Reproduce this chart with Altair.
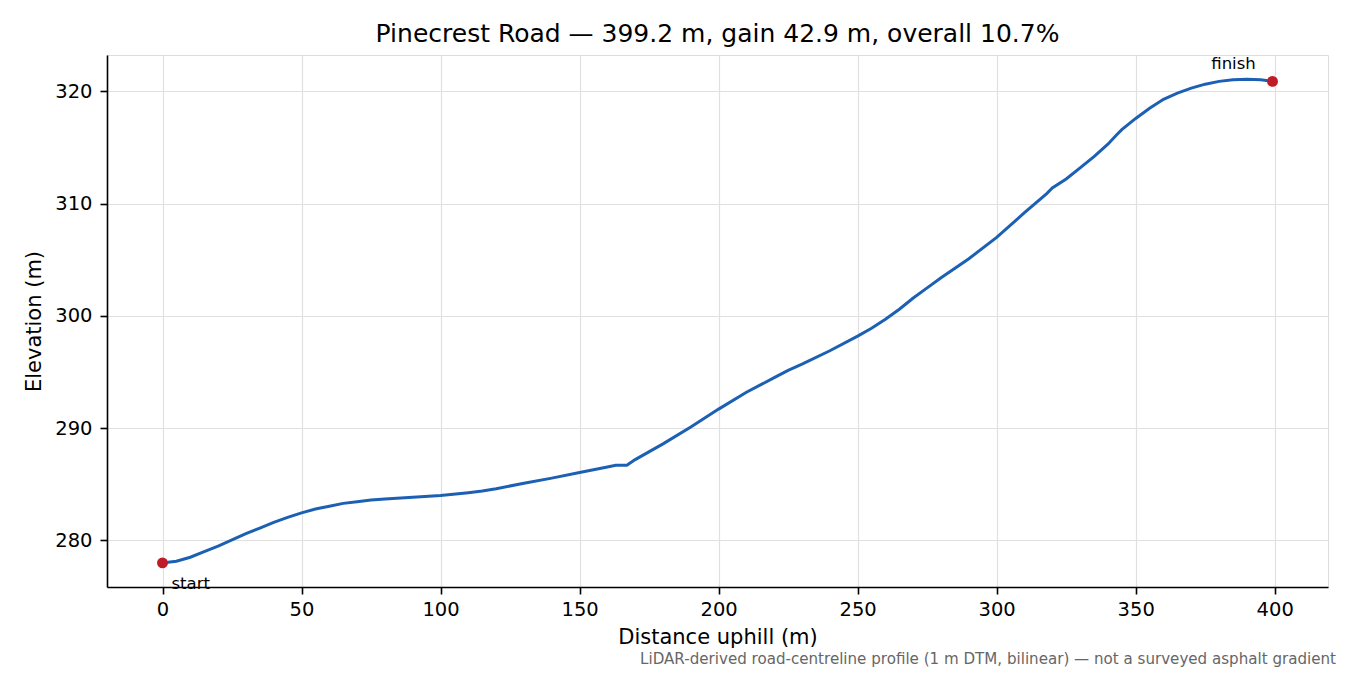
import altair as alt
import pandas as pd

distance = [0, 2, 5, 10, 15, 20, 25, 30, 35, 40, 45, 50, 55, 60, 65, 70, 75, 80, 90, 100,
            110, 115, 120, 130, 140, 150, 160, 163, 167, 170, 180, 190, 200, 210, 220, 225,
            230, 240, 250, 255, 260, 265, 270, 275, 280, 290, 300, 310, 318, 320, 325, 330,
            335, 340, 343, 345, 350, 355, 360, 365, 370, 375, 380, 385, 390, 395, 399.2]
elevation = [278.0, 278.05, 278.15, 278.5, 279.0, 279.5, 280.05, 280.6, 281.1, 281.6, 282.05,
             282.45, 282.8, 283.05, 283.3, 283.45, 283.6, 283.7, 283.85, 284.0,
             284.25, 284.4, 284.6, 285.1, 285.55, 286.05, 286.55, 286.7, 286.7, 287.2,
             288.6, 290.1, 291.7, 293.2, 294.5, 295.15, 295.7, 296.9, 298.2, 298.9, 299.7,
             300.6, 301.6, 302.5, 303.4, 305.1, 307.0, 309.2, 310.9, 311.4, 312.2, 313.2,
             314.2, 315.3, 316.1, 316.6, 317.6, 318.5, 319.3, 319.85, 320.3, 320.65, 320.9,
             321.05, 321.1, 321.05, 320.9]

end_labels = ["start", "finish"]
end_distance = [0, 399.2]
end_elevation = [278.0, 320.9]

title_text = "Pinecrest Road — 399.2 m, gain 42.9 m, overall 10.7%"
footnote = "LiDAR-derived road-centreline profile (1 m DTM, bilinear) — not a surveyed asphalt gradient"

df = pd.DataFrame({"d": distance, "e": elevation})
ends = pd.DataFrame({"label": end_labels, "d": end_distance, "e": end_elevation})

FONT = "DejaVu Sans"

xscale = alt.Scale(domain=[-19.96, 419.16], nice=False, zero=False)
yscale = alt.Scale(domain=[275.85, 323.25], nice=False, zero=False)

common = dict(grid=True, gridColor="#e0e0e0", gridWidth=1.2, tickColor="black",
              domainColor="black", domainWidth=1.6, tickWidth=1.6, tickSize=7,
              labelFontSize=19.5, titleFontSize=21, titleFontWeight="normal",
              labelColor="black", titleColor="black", labelFont=FONT, titleFont=FONT)

xaxis = alt.Axis(values=[0, 50, 100, 150, 200, 250, 300, 350, 400], title="Distance uphill (m)",
                 labelPadding=6, titlePadding=8, **common)
yaxis = alt.Axis(values=[280, 290, 300, 310, 320], title="Elevation (m)",
                 labelPadding=8, titlePadding=10, **common)

line = alt.Chart(df).mark_line(color="#1c60b4", strokeWidth=3).encode(
    x=alt.X("d:Q", scale=xscale, axis=xaxis),
    y=alt.Y("e:Q", scale=yscale, axis=yaxis),
)

dots = alt.Chart(ends).mark_point(filled=True, color="#c01c28", size=120, opacity=1).encode(
    x=alt.X("d:Q", scale=xscale),
    y=alt.Y("e:Q", scale=yscale),
)

start_lbl = alt.Chart(ends[ends.label == "start"]).mark_text(
    align="left", baseline="alphabetic", dx=9, dy=26, fontSize=16.5, font=FONT, color="black"
).encode(x=alt.X("d:Q", scale=xscale), y=alt.Y("e:Q", scale=yscale), text="label:N")

finish_lbl = alt.Chart(ends[ends.label == "finish"]).mark_text(
    align="center", baseline="alphabetic", dx=-39, dy=-12, fontSize=16.5, font=FONT, color="black"
).encode(x=alt.X("d:Q", scale=xscale), y=alt.Y("e:Q", scale=yscale), text="label:N")

note = alt.Chart(pd.DataFrame({"t": [footnote]})).mark_text(
    align="right", baseline="alphabetic", fontSize=15.1, font=FONT, color="#666666"
).encode(x=alt.value(1229), y=alt.value(609), text="t:N")

chart = alt.layer(line, dots, start_lbl, finish_lbl, note).properties(
    width=1221, height=532,
    title=alt.TitleParams(title_text, fontSize=25, font=FONT, fontWeight="normal",
                          anchor="middle", offset=8, color="black"),
    autosize=alt.AutoSizeParams(type="none"),
    padding={"left": 99, "top": 47, "right": 14, "bottom": 86},
).configure_view(stroke="black", strokeWidth=1.6).configure(background="white")

chart.save("out.html", embed_options={"renderer": "svg", "actions": False})
